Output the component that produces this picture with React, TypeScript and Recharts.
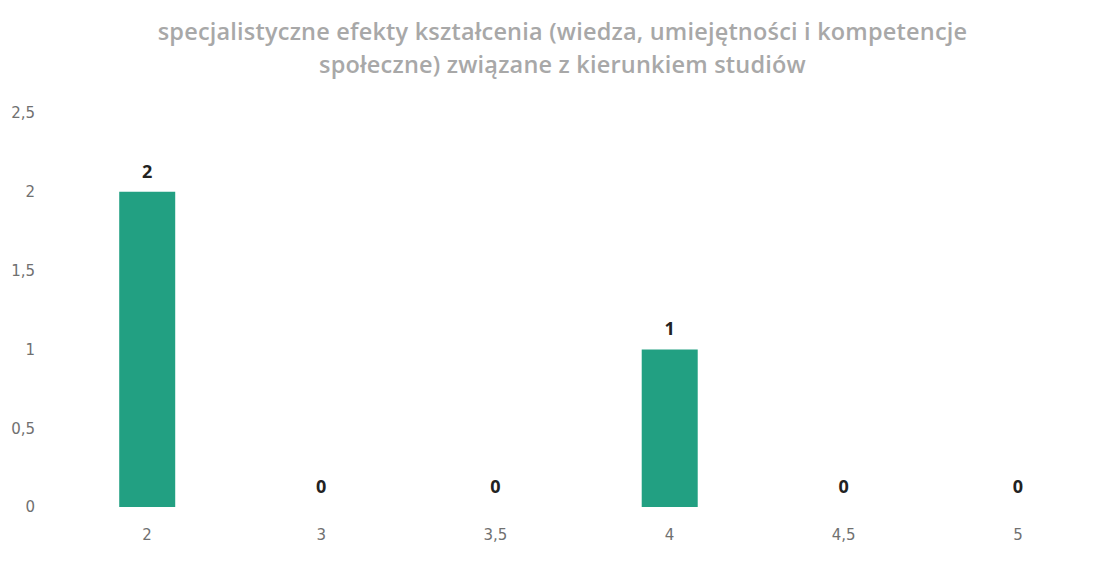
import { ComposedChart, Bar, Line, XAxis, YAxis, LabelList } from 'recharts';

const categories = ['2', '3', '3,5', '4', '4,5', '5'];
const counts = [2, 0, 0, 1, 0, 0];
const yTicks = [0, 0.5, 1, 1.5, 2, 2.5];
const titleLines = [
  'specjalistyczne efekty kształcenia (wiedza, umiejętności i kompetencje',
  'społeczne) związane z kierunkiem studiów',
];

const data = categories.map((name, i) => ({ name, value: counts[i] }));

const fmt = (v: number) => String(v).replace('.', ',');

export default function App() {
  return (
    <div style={{ position: 'absolute', left: 0, top: 0, width: 1120, height: 563, background: '#fff' }}>
      <div
        style={{
          position: 'absolute',
          left: 0,
          top: 15,
          width: 1125,
          textAlign: 'center',
          fontFamily: '"Open Sans", sans-serif',
          fontSize: 23.5,
          fontWeight: 600,
          letterSpacing: 0.2,
          lineHeight: '33px',
          color: '#a8a8a8',
        }}
      >
        {titleLines.map((t) => (
          <div key={t}>{t}</div>
        ))}
      </div>
      <ComposedChart
        width={1120}
        height={563}
        data={data}
        margin={{ top: 113, right: 15, bottom: 26, left: 0 }}
        barCategoryGap="34%"
      >
        <XAxis
          dataKey="name"
          axisLine={false}
          tickLine={false}
          tickSize={0}
          tickMargin={22}
          tick={{ fill: '#707070', fontSize: 15, fontFamily: '"DejaVu Sans", sans-serif' }}
        />
        <YAxis
          width={60}
          domain={[0, 2.5]}
          ticks={yTicks}
          tickFormatter={fmt}
          axisLine={false}
          tickLine={false}
          tickSize={0}
          tickMargin={25}
          tick={{ fill: '#707070', fontSize: 15, fontFamily: '"DejaVu Sans", sans-serif' }}
        />
        <Bar dataKey="value" fill="#22a082" isAnimationActive={false} />
        {/* niewidoczna linia tylko po to, by pokazać etykiety także dla zer */}
        <Line
          dataKey="value"
          stroke="none"
          dot={false}
          activeDot={false}
          isAnimationActive={false}
        >
          <LabelList
            dataKey="value"
            position="top"
            offset={14}
            fill="#222"
            fontSize={18}
            fontWeight="bold"
            fontFamily='"Open Sans", sans-serif'
          />
        </Line>
      </ComposedChart>
    </div>
  );
}
